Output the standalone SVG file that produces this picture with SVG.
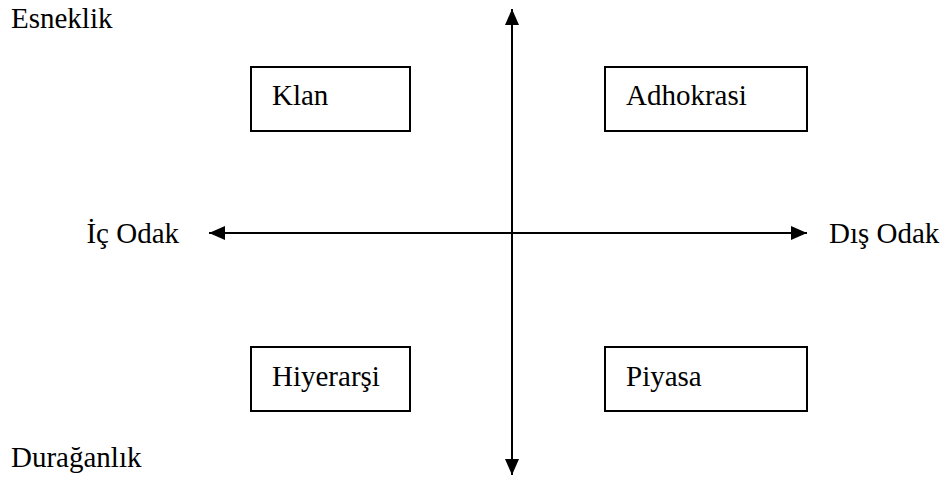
<svg xmlns="http://www.w3.org/2000/svg" width="952" height="479" viewBox="0 0 952 479">
  <style>
    .lbl { font-family: "Liberation Serif", "Times New Roman", serif; font-size: 29px; fill: #000; }
    .box { fill: #fff; stroke: #000; stroke-width: 2; }
    .axis { stroke: #000; stroke-width: 2; fill: none; }
  </style>
  <defs>
    <marker id="arrow" viewBox="0 0 16 14" refX="16" refY="7" markerWidth="16" markerHeight="14" markerUnits="userSpaceOnUse" orient="auto-start-reverse">
      <path d="M0,0 L16,7 L0,14 Z" fill="#000"/>
    </marker>
  </defs>

  <rect width="952" height="479" fill="#fff"/>

  <!-- axes -->
  <g id="connectors">
    <line class="axis" x1="512" y1="9" x2="512" y2="475" marker-start="url(#arrow)" marker-end="url(#arrow)"/>
    <line class="axis" x1="209" y1="233" x2="807" y2="233" marker-start="url(#arrow)" marker-end="url(#arrow)"/>
  </g>

  <!-- axis end labels -->
  <g id="label-esneklik"><text class="lbl" x="11" y="28">Esneklik</text></g>
  <g id="label-duraganlik"><text class="lbl" x="11" y="467">Durağanlık</text></g>
  <g id="label-ic-odak"><text class="lbl" x="179" y="243" text-anchor="end">İç Odak</text></g>
  <g id="label-dis-odak"><text class="lbl" x="829" y="243">Dış Odak</text></g>

  <!-- quadrants -->
  <g id="klan">
    <rect class="box" x="251" y="67" width="159" height="64"/>
    <text class="lbl" x="272" y="105">Klan</text>
  </g>
  <g id="adhokrasi">
    <rect class="box" x="605" y="67" width="202" height="64"/>
    <text class="lbl" x="626" y="105">Adhokrasi</text>
  </g>
  <g id="hiyerarsi">
    <rect class="box" x="251" y="347" width="159" height="64"/>
    <text class="lbl" x="272" y="386">Hiyerarşi</text>
  </g>
  <g id="piyasa">
    <rect class="box" x="605" y="347" width="202" height="64"/>
    <text class="lbl" x="626" y="386">Piyasa</text>
  </g>
</svg>
